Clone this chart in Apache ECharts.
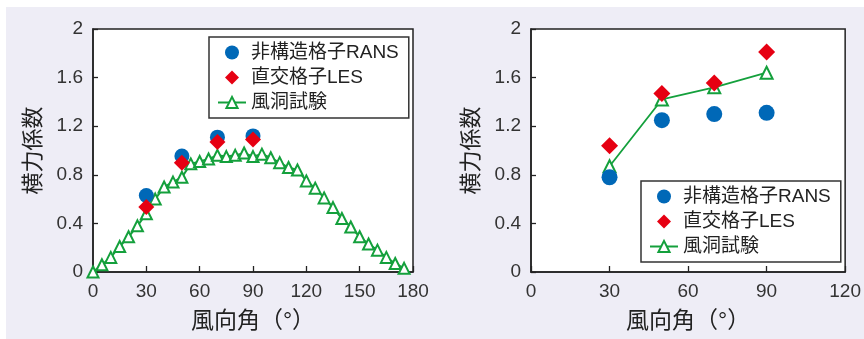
<!DOCTYPE html>
<html>
<head>
<meta charset="utf-8">
<script src="https://cdn.jsdelivr.net/npm/echarts@6/dist/echarts.min.js"></script>
<style>
html,body{margin:0;padding:0;background:#ffffff;}
#wrap{position:relative;width:864px;height:339px;overflow:hidden;background:#ffffff;}
#bg{position:absolute;left:6px;top:7px;width:858px;height:332px;background:#eeedf6;}
#chart{position:absolute;left:0;top:0;width:864px;height:339px;}
</style>
</head>
<body>
<div id="wrap"><div id="bg"></div><div id="chart"></div></div>
<script>
// ---- data ----
const seriesNames = ['非構造格子RANS', '直交格子LES', '風洞試験'];

// left panel
const leftRansAngle = [30, 50, 70, 90];
const leftRansValue = [0.63, 0.955, 1.11, 1.12];
const leftLesAngle = [30, 50, 70, 90];
const leftLesValue = [0.535, 0.90, 1.07, 1.09];
const leftExpAngle = [0, 5, 10, 15, 20, 25, 30, 35, 40, 45, 50, 55, 60, 65, 70, 75, 80, 85,
  90, 95, 100, 105, 110, 115, 120, 125, 130, 135, 140, 145, 150, 155, 160, 165, 170, 175];
const leftExpValue = [0.00, 0.06, 0.12, 0.21, 0.29, 0.38, 0.48, 0.60, 0.70, 0.74, 0.78, 0.89,
  0.91, 0.93, 0.96, 0.95, 0.96, 0.98, 0.95, 0.97, 0.94, 0.90, 0.86, 0.84, 0.75, 0.69, 0.61,
  0.53, 0.44, 0.37, 0.29, 0.23, 0.18, 0.12, 0.07, 0.03];

// right panel
const rightRansAngle = [30, 50, 70, 90];
const rightRansValue = [0.78, 1.25, 1.30, 1.31];
const rightLesAngle = [30, 50, 70, 90];
const rightLesValue = [1.04, 1.47, 1.555, 1.81];
const rightExpAngle = [30, 50, 70, 90];
const rightExpValue = [0.87, 1.42, 1.52, 1.64];

// axes
const leftXTicks = ['0', '30', '60', '90', '120', '150', '180'];
const rightXTicks = ['0', '30', '60', '90', '120'];
const yTicks = ['0', '0.4', '0.8', '1.2', '1.6', '2'];
const xAxisTitle = '風向角（°）';
const yAxisTitle = '横力係数';

// ---- build ----
const pairs = (xs, ys) => xs.map((x, i) => [x, ys[i]]);
const FONT = '"Liberation Sans", "Noto Sans CJK JP", sans-serif';
const BLUE = '#0068b7', RED = '#e60012', GREEN = '#14a03c';
const DIAMOND = 'path://M0,-1L1,0L0,1L-1,0Z';

function xAxis(gridIndex, max, ticks) {
  return {
    type: 'value', gridIndex, min: 0, max, interval: 30,
    axisLine: { show: true, lineStyle: { color: '#222', width: 1.5 } },
    axisTick: { show: true, inside: true, length: 6, lineStyle: { color: '#222', width: 1.3 } },
    splitLine: { show: false },
    axisLabel: { fontSize: 19, color: '#333', fontFamily: FONT, margin: 10,
      formatter: v => ticks[Math.round(v / 30)] },
    name: xAxisTitle, nameLocation: 'middle', nameGap: 38,
    nameTextStyle: { fontSize: 23, color: '#222', fontFamily: FONT }
  };
}
function yAxis(gridIndex) {
  return {
    type: 'value', gridIndex, min: 0, max: 2, interval: 0.4,
    axisLine: { show: true, lineStyle: { color: '#222', width: 1.5 } },
    axisTick: { show: true, inside: true, length: 5, lineStyle: { color: '#222', width: 1.3 } },
    splitLine: { show: false },
    axisLabel: { fontSize: 19, color: '#333', fontFamily: FONT, margin: 10,
      formatter: v => yTicks[Math.round(v / 0.4)] },
    name: yAxisTitle, nameLocation: 'middle', nameGap: 48, nameRotate: 90,
    nameTextStyle: { fontSize: 22, color: '#222', fontFamily: FONT }
  };
}
function seriesFor(idx, rans, les, exp, symSize, triSize, lineW) {
  return [
    { name: seriesNames[2], type: 'line', xAxisIndex: idx, yAxisIndex: idx, data: exp,
      symbol: 'triangle', symbolSize: triSize, showSymbol: true, z: 2,
      lineStyle: { color: GREEN, width: lineW },
      itemStyle: { color: '#ffffff', borderColor: GREEN, borderWidth: 2 },
      emphasis: { disabled: true }, animation: false },
    { name: seriesNames[0], type: 'scatter', xAxisIndex: idx, yAxisIndex: idx, data: rans,
      symbol: 'circle', symbolSize: symSize, z: 3,
      itemStyle: { color: BLUE, opacity: 1 }, animation: false },
    { name: seriesNames[1], type: 'scatter', xAxisIndex: idx, yAxisIndex: idx, data: les,
      symbol: DIAMOND, symbolSize: symSize + 1, z: 4,
      itemStyle: { color: RED, opacity: 1 }, animation: false }
  ];
}
function legend(left, top) {
  return {
    data: [
      { name: seriesNames[0], icon: 'circle' },
      { name: seriesNames[1], icon: DIAMOND },
      { name: seriesNames[2] }
    ],
    orient: 'vertical', left, top,
    itemWidth: 28, itemHeight: 14, itemGap: 6, symbolKeepAspect: true,
    padding: [6, 10, 6, 8],
    backgroundColor: '#ffffff', borderColor: '#333', borderWidth: 1.5,
    textStyle: { fontSize: 19, color: '#222', fontFamily: FONT },
    selectedMode: false
  };
}

const chart = echarts.init(document.getElementById('chart'), null, { renderer: 'canvas' });
chart.setOption({
  backgroundColor: 'transparent',
  animation: false,
  grid: [
    { left: 93, top: 29, width: 320, height: 243, show: true, backgroundColor: '#ffffff',
      borderColor: '#222', borderWidth: 1.5 },
    { left: 531, top: 29, width: 315, height: 243, show: true, backgroundColor: '#ffffff',
      borderColor: '#222', borderWidth: 1.5 }
  ],
  xAxis: [xAxis(0, 180, leftXTicks), xAxis(1, 120, rightXTicks)],
  yAxis: [yAxis(0), yAxis(1)],
  legend: [legend(209, 37), legend(641, 181)],
  series: [
    ...seriesFor(0, pairs(leftRansAngle, leftRansValue), pairs(leftLesAngle, leftLesValue),
      pairs(leftExpAngle, leftExpValue), 15, 11, 2),
    ...seriesFor(1, pairs(rightRansAngle, rightRansValue), pairs(rightLesAngle, rightLesValue),
      pairs(rightExpAngle, rightExpValue), 16, 12, 1.8)
  ]
});
</script>
</body>
</html>
